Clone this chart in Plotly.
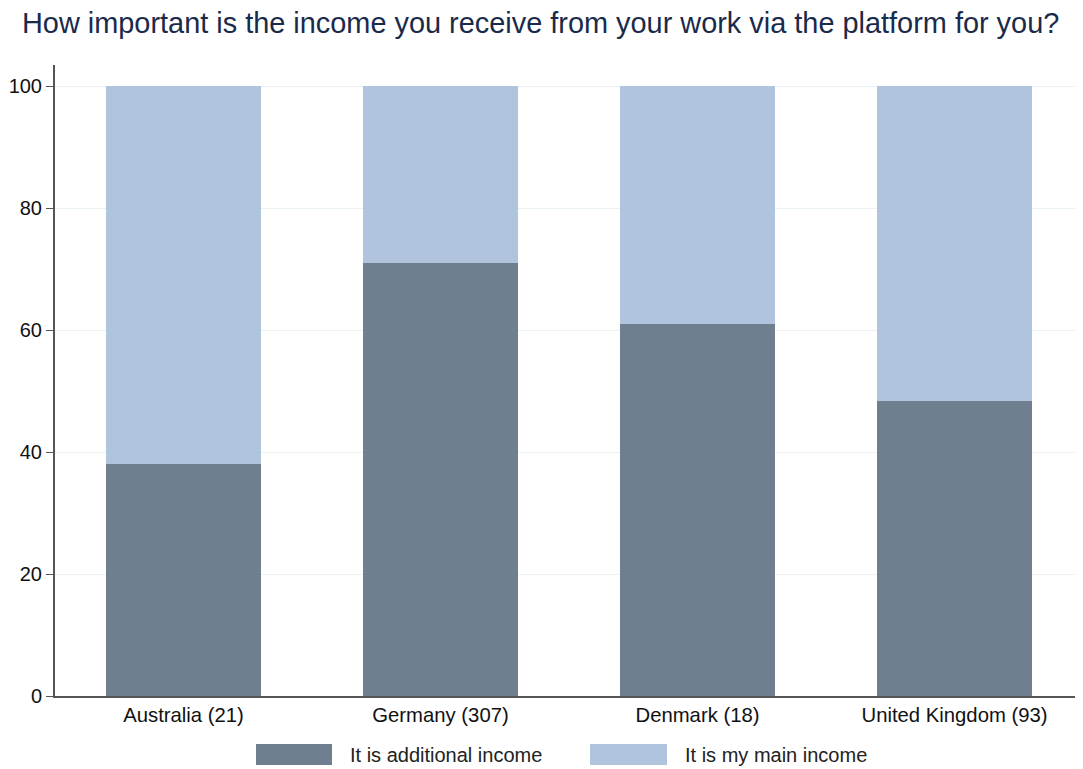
import plotly.graph_objects as go

# Dados
countries = ["Australia (21)", "Germany (307)", "Denmark (18)", "United Kingdom (93)"]
additional = [38.1, 71.0, 61.1, 48.4]
main = [61.9, 29.0, 38.9, 51.6]
series_names = ["It is additional income", "It is my main income"]
colors = ["#6f7f8f", "#b0c4de"]

# a página tem margem de 8px, então a figura é 8px menor
OFF = 8
W, H = 1083 - OFF, 769 - OFF
L, T, B = 55 - OFF, 65 - OFF, 769 - 696


def px(x):
    return (x - OFF - L) / (W - L)


def py(y):
    return (H - B - (y - OFF)) / (H - T - B)


fig = go.Figure()
fig.add_trace(go.Bar(x=countries, y=additional, name=series_names[0],
                     marker=dict(color=colors[0], line=dict(width=0))))
fig.add_trace(go.Bar(x=countries, y=main, name=series_names[1],
                     marker=dict(color=colors[1], line=dict(width=0))))

# legenda desenhada à mão (retângulos largos como no original)
leg_boxes = [(256, 332), (590, 667)]
leg_text_x = [350, 685]
for (x0, x1), tx, name, c in zip(leg_boxes, leg_text_x, series_names, colors):
    fig.add_shape(type="rect", xref="paper", yref="paper",
                  x0=px(x0), x1=px(x1), y0=py(744), y1=py(765),
                  fillcolor=c, line=dict(width=0))
    fig.add_annotation(text=name, xref="paper", yref="paper",
                       x=px(tx), xanchor="left", xshift=-2,
                       y=py(754.5), yanchor="middle",
                       showarrow=False, font=dict(size=20, color="#222222"))

fig.update_layout(
    barmode="stack",
    bargap=0.4,
    width=W,
    height=H,
    showlegend=False,
    paper_bgcolor="white",
    plot_bgcolor="white",
    font=dict(family="Liberation Sans, Arial, sans-serif", size=20, color="#111111"),
    title=dict(
        text="How important is the income you receive from your work via the platform for you?",
        x=(22 - OFF) / W, xanchor="left", xref="container",
        y=1 - (22.5 - OFF) / H, yanchor="middle", yref="container",
        font=dict(size=28.9, color="#1a2a4a"),
        automargin=False,
    ),
    margin=dict(l=L, r=0, t=T, b=B, autoexpand=False),
    xaxis=dict(
        showline=True, linecolor="#555555", linewidth=2,
        ticks="", tickfont=dict(size=20.3, color="#111111"),
        automargin=False,
    ),
    yaxis=dict(
        range=[0, 103.5],
        tickvals=[0, 20, 40, 60, 80, 100],
        showline=True, linecolor="#555555", linewidth=2,
        ticks="outside", ticklen=7, tickcolor="#555555",
        showgrid=True, gridcolor="#eaf1f3", gridwidth=1,
        zeroline=False,
        tickfont=dict(size=20, color="#111111"),
        automargin=False,
    ),
)

fig.write_html("out.html")
